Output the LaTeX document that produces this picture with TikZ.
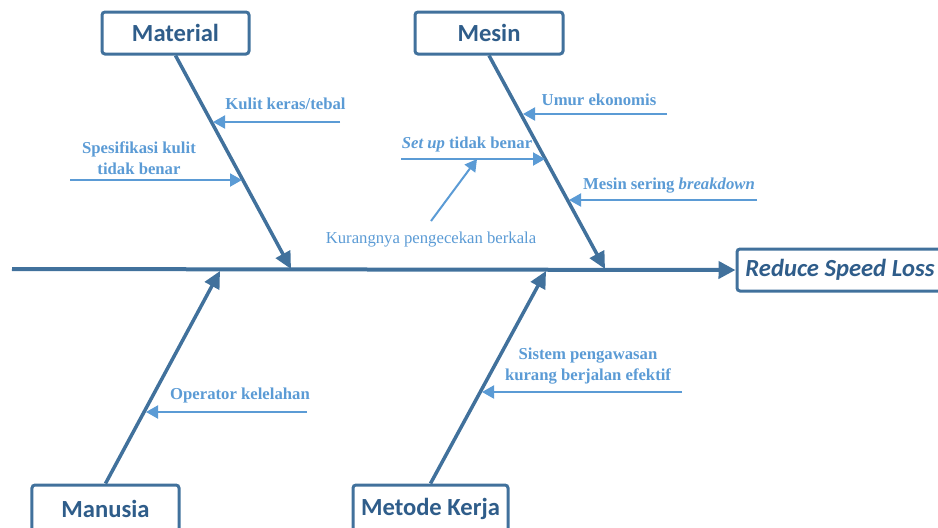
\documentclass[tikz,border=0pt]{standalone}
\usepackage{fontspec}
\newfontfamily\tms{Liberation Serif}
\newfontfamily\calib{Carlito}
\usetikzlibrary{arrows.meta}
\definecolor{bonec}{HTML}{41719C}
\definecolor{headc}{HTML}{2F5D8A}
\definecolor{causec}{HTML}{5B9BD5}
\tikzset{
	catbox/.style={draw=bonec,line width=0.6mm,rounded corners=0.6mm,fill=white,minimum height=8.4mm,inner sep=0pt,text=headc,font=\calib\bfseries\fontsize{14}{16}\selectfont},
	spine/.style={draw=bonec,line width=0.8mm,-{Triangle[length=3.4mm,width=3.4mm]}},
	bone/.style={draw=bonec,line width=0.7mm,-{Triangle[length=3.4mm,width=3.2mm]}},
	cause/.style={text=causec,inner sep=0pt,align=center,font=\tms\bfseries\fontsize{9.5}{11.9}\selectfont},
	causearrow/.style={draw=causec,line width=0.4mm,-{Triangle[length=2.4mm,width=2.6mm]}}
}
\begin{document}
\begin{tikzpicture}[x=0.2mm,y=-0.2mm]
	\useasboundingbox (0,0) rectangle (938,527);
	\clip (0,0) rectangle (938,527);
	%HEAD
	\node[catbox,minimum width=41.2mm,font=\calib\bfseries\itshape\fontsize{14}{16}\selectfont] (effect) at (840,270) {Reduce Speed Loss};
	\coordinate (tail) at (12,269);
	\draw[spine] (tail) -- (effect.west);
	%CATEGORIES
	\node[catbox,minimum width=29.4mm] (material) at (175.5,33) {Material};
	\node[catbox,minimum width=29.6mm] (mesin) at (489,33) {Mesin};
	\node[catbox,minimum width=29.4mm,minimum height=9.6mm] (manusia) at (105.5,509) {Manusia};
	\node[catbox,minimum width=31mm,minimum height=9.6mm] (metode) at (430.5,509) {Metode Kerja};
	\coordinate (jmat) at (291,269);
	\coordinate (jmes) at (605,269);
	\coordinate (jman) at (220,271);
	\coordinate (jmet) at (546,271);
	\draw[bone] (material.south) -- (jmat);
	\draw[bone] (mesin.south) -- (jmes);
	\draw[bone] (manusia.north) -- (jman);
	\draw[bone] (metode.north) -- (jmet);
	%MATERIAL
	\node[cause] (kulit) at (285.5,104) {Kulit keras/tebal};
	\coordinate (kulit0) at (340,122); \coordinate (kulit1) at (213,122);
	\draw[causearrow] (kulit0) -- (kulit1);
	\node[cause] (spek) at (139,158) {Spesifikasi kulit\\tidak benar};
	\coordinate (spek0) at (70,180); \coordinate (spek1) at (242,180);
	\draw[causearrow] (spek0) -- (spek1);
	%MESIN
	\node[cause] (umur) at (599,100) {Umur ekonomis};
	\coordinate (umur0) at (667,114); \coordinate (umur1) at (523,114);
	\draw[causearrow] (umur0) -- (umur1);
	\node[cause] (setup) at (467,144) {\textit{Set up} tidak benar};
	\coordinate (setup0) at (401,159); \coordinate (setup1) at (545,159);
	\draw[causearrow] (setup0) -- (setup1);
	\node[cause] (rusak) at (669,186) {Mesin sering \textit{breakdown}};
	\coordinate (rusak0) at (757,200); \coordinate (rusak1) at (569,200);
	\draw[causearrow] (rusak0) -- (rusak1);
	\node[cause,font=\tms\fontsize{9.5}{11.9}\selectfont] (kurang) at (431,240) {Kurangnya pengecekan berkala};
	\coordinate (kurang0) at (431,221); \coordinate (kurang1) at (477,159);
	\draw[causearrow] (kurang0) -- (kurang1);
	%MANUSIA
	\node[cause] (lelah) at (240,395) {Operator kelelahan};
	\coordinate (lelah0) at (307,412); \coordinate (lelah1) at (146,412);
	\draw[causearrow] (lelah0) -- (lelah1);
	%METODE
	\node[cause] (awas) at (588,366) {Sistem pengawasan\\kurang berjalan efektif};
	\coordinate (awas0) at (682,392); \coordinate (awas1) at (482,392);
	\draw[causearrow] (awas0) -- (awas1);
\end{tikzpicture}
\end{document}
